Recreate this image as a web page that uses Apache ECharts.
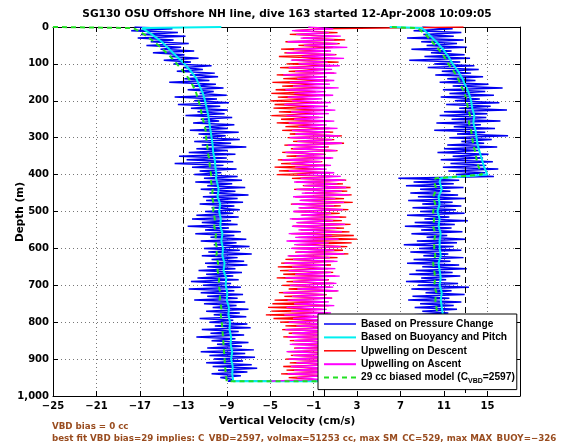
<!DOCTYPE html>
<html><head><meta charset="utf-8">
<script src="https://cdn.jsdelivr.net/npm/echarts@6/dist/echarts.min.js"></script>
<style>html,body{margin:0;padding:0;background:#fff}#c{width:568px;height:442px}</style>
</head><body><div id="c"></div>
<script>
// depth samples (m)
const D5 = [0,5,10,15,20,25,30,35,40,45,50,55,60,65,70,75,80,85,90,95,
100,105,110,115,120,125,130,135,140,145,150,155,160,165,170,175,180,185,190,195,
200,205,210,215,220,225,230,235,240,245,250,255,260,265,270,275,280,285,290,295,
300,305,310,315,320,325,330,335,340,345,350,355,360,365,370,375,380,385,390,395,
400,405,410,415,420,425,430,435,440,445,450,455,460,465,470,475,480,485,490,495,
500,505,510,515,520,525,530,535,540,545,550,555,560,565,570,575,580,585,590,595,
600,605,610,615,620,625,630,635,640,645,650,655,660,665,670,675,680,685,690,695,
700,705,710,715,720,725,730,735,740,745,750,755,760,765,770,775,780,785,790,795,
800,805,810,815,820,825,830,835,840,845,850,855,860,865,870,875,880,885,890,895,
900,905,910,915,920,925,930,935,940,945,950,955,960];
const D20 = [0,3,20,40,60,80,100,120,140,160,180,200,220,240,260,280,300,320,340,360,380,400,410,
420,440,460,480,500,520,540,560,580,600,620,640,660,680,700,720,740,760,780,800,820,840,860,880,900,920,940,960];

// Based on Pressure Change (cm/s) - descent, at D5 depths
const blueDescent = [-17.5,-14.0,-17.8,-13.5,-16.9,-12.8,-17.2,-13.9,-16.0,-12.5,
-16.4,-13.2,-15.1,-12.0,-15.8,-12.9,-14.2,-11.6,-14.8,-12.3,
-13.9,-10.4,-13.0,-11.2,-13.6,-10.1,-12.4,-9.8,-12.9,-10.6,
-14.3,-10.0,-12.1,-9.3,-12.6,-10.2,-11.5,-9.0,-13.8,-9.9,
-12.0,-8.8,-13.5,-9.6,-12.3,-8.9,-11.7,-9.2,-12.8,-8.5,
-11.4,-9.7,-12.1,-8.3,-11.0,-8.9,-12.4,-7.9,-11.6,-9.1,
-11.2,-7.8,-12.0,-8.6,-11.3,-7.2,-11.8,-8.9,-12.5,-8.2,
-13.4,-9.0,-12.7,-8.4,-13.8,-9.3,-12.2,-8.1,-11.5,-9.5,
-12.0,-8.0,-11.1,-7.6,-11.9,-8.5,-10.8,-7.3,-11.4,-8.2,
-10.6,-7.0,-11.2,-8.0,-10.9,-7.5,-11.5,-8.3,-10.4,-7.8,
-11.0,-8.4,-11.8,-7.9,-12.2,-8.6,-11.3,-8.0,-12.6,-8.8,
-11.0,-7.7,-11.9,-8.3,-10.5,-7.2,-11.4,-8.1,-10.2,-6.9,
-11.1,-7.8,-10.7,-6.7,-11.3,-8.0,-10.4,-7.4,-11.0,-7.1,
-10.8,-8.2,-11.6,-7.6,-10.9,-8.4,-11.7,-7.9,-12.3,-8.6,
-11.2,-7.7,-12.5,-8.3,-11.4,-7.5,-10.8,-8.0,-12.0,-7.3,
-11.1,-8.1,-10.3,-7.0,-10.9,-7.8,-10.2,-7.2,-11.5,-8.4,
-10.6,-7.1,-10.1,-6.8,-11.3,-7.9,-10.5,-7.4,-11.8,-8.2,
-10.4,-7.0,-9.9,-7.6,-10.8,-6.5,-11.4,-7.3,-10.6,-6.4,
-10.2,-7.5,-10.9,-6.7,-10.3,-6.2,-9.8,-7.1,-10.4,-7.7,
-9.6,-8.4,-8.9];
// Based on Pressure Change - ascent, at D5 depths
const blueAscent = [9.0,11.8,8.2,12.6,9.1,11.9,7.6,12.8,8.9,12.2,
9.4,13.1,8.0,11.7,9.8,12.9,9.2,13.4,7.8,12.5,
10.1,13.8,9.5,14.2,10.8,13.5,10.2,14.6,11.3,13.9,
10.6,15.1,11.8,16.4,10.9,14.8,11.5,15.6,10.7,14.3,
12.0,16.1,11.2,15.3,12.4,16.8,11.0,15.0,10.6,14.9,
11.7,16.2,10.3,14.4,11.9,15.7,10.1,14.8,12.2,16.9,
11.5,15.4,12.6,14.7,11.3,15.9,11.0,14.2,10.4,15.1,
11.8,14.6,10.7,15.5,11.6,14.9,10.9,16.0,11.4,14.8,
12.1,15.6,6.8,12.4,8.2,11.9,7.5,12.8,8.8,11.6,
7.9,12.3,8.6,13.0,7.7,11.8,9.0,12.6,8.1,12.1,
8.8,12.9,7.6,11.5,9.2,13.2,8.3,12.0,7.4,11.7,
8.9,12.7,8.0,11.3,9.4,13.0,8.5,12.2,7.3,11.9,
8.7,12.6,7.9,11.4,9.1,12.8,8.2,11.6,7.6,12.4,
9.0,13.1,8.4,11.8,7.8,12.5,8.9,11.2,7.5,12.3,
8.6,13.3,8.0,11.7,9.3,12.9,8.1,11.5,7.7,12.6,
8.8,11.9,8.3,12.2,9.0,11.4,8.2,12.7,7.9,11.8,
8.7,12.4,8.0,11.6,9.1,12.9,8.4,11.3,7.8,12.5,
8.9,11.7,8.2,12.8,8.6,11.9,9.3,12.3,8.1,11.6,
8.8,12.5,8.3,11.4,9.0,12.1,8.7,11.8,9.4,11.2,
9.6,10.8,10.0];
// Upwelling on Descent, at D5 depths
const redDescent = [12.8,-0.6,-2.8,1.2,-3.2,0.5,-2.0,1.9,-3.6,1.4,
-2.4,0.8,-4.0,0.3,-3.7,1.1,-4.2,0.2,-3.0,1.3,
-3.5,0.6,-4.1,0.0,-3.3,0.9,-4.4,-0.3,-3.8,0.4,
-4.8,-0.5,-3.9,0.1,-4.5,-0.8,-4.9,-0.4,-4.3,-1.0,
-5.0,-0.2,-4.6,-0.9,-4.7,-0.1,-4.2,-0.7,-4.9,-0.5,
-4.0,0.2,-4.4,-0.6,-3.6,0.5,-3.9,0.8,-3.2,1.6,
-3.4,0.9,-2.9,1.8,-3.7,0.4,-3.1,1.2,-3.9,0.1,
-3.5,0.6,-4.3,-0.2,-4.0,0.3,-4.6,-0.4,-4.2,0.5,
-4.4,0.8,-3.0,2.0,-2.6,1.7,-2.0,2.4,-2.8,2.1,
-1.8,2.5,-2.7,1.8,-2.2,2.6,-3.1,1.5,-2.3,2.2,
-2.8,1.4,-2.1,2.0,-3.0,1.6,-2.5,2.4,-2.9,1.8,
-2.2,2.3,-3.1,2.7,-2.4,3.0,-3.2,2.5,-2.6,2.1,
-3.0,1.7,-2.7,2.2,-3.3,1.2,-3.6,0.9,-4.0,0.6,
-4.3,0.3,-4.1,0.8,-3.8,1.0,-4.4,0.4,-3.5,0.9,
-3.9,0.5,-3.3,1.2,-4.2,0.2,-3.7,0.7,-4.6,0.1,
-4.8,0.4,-5.2,-0.2,-4.9,0.3,-5.4,-0.3,-4.7,0.2,
-4.1,0.6,-3.6,1.1,-3.9,0.8,-3.3,1.4,-3.8,0.9,
-3.2,1.7,-3.0,2.0,-2.8,1.8,-3.4,1.3,-3.1,1.0,
-3.6,0.7,-3.2,1.2,-3.8,0.4,-3.5,0.9,-4.0,0.2,
-3.3,-1.0,-2.5];
// Upwelling on Ascent, at D5 depths
const magentaAscent = [-1.5,0.8,-3.0,0.4,-2.6,1.5,-2.2,0.9,-3.4,1.2,
-1.9,2.1,-2.8,0.6,-3.5,1.0,-2.1,1.8,-3.1,0.3,
-2.4,1.4,-3.3,0.7,-2.7,1.1,-3.8,0.2,-2.5,0.9,
-3.2,0.5,-2.9,1.3,-3.6,0.1,-2.8,0.8,-3.4,-0.2,
-3.0,0.6,-3.7,0.3,-2.6,1.0,-3.1,0.4,-3.5,-0.1,
-2.8,0.9,-3.3,0.2,-2.4,1.2,-3.0,0.5,-2.7,1.4,
-3.2,0.7,-2.5,1.6,-3.4,0.3,-2.9,1.1,-3.6,0.0,
-2.6,0.8,-3.9,-0.3,-3.1,0.6,-2.7,0.2,-3.3,0.9,
-2.5,1.5,-2.2,1.9,-2.8,1.2,-1.9,2.0,-2.6,1.6,
-2.1,2.3,-2.9,1.0,-2.3,1.8,-3.0,0.9,-2.4,1.7,
-2.9,0.6,-2.2,1.4,-3.2,0.8,-2.6,1.9,-3.0,1.1,
-2.4,1.6,-3.3,0.7,-2.7,1.3,-3.5,0.4,-2.8,1.5,
-3.1,0.9,-2.6,1.8,-3.4,0.5,-2.9,1.2,-3.7,0.2,
-3.0,1.0,-3.3,0.6,-2.7,1.4,-3.6,0.3,-2.9,1.1,
-3.2,0.8,-2.5,1.3,-3.8,0.1,-3.0,0.7,-3.4,0.4,
-2.8,0.9,-3.5,0.2,-3.1,0.6,-3.7,-0.1,-2.9,0.8,
-3.3,0.3,-2.6,1.0,-3.6,0.5,-3.0,0.9,-3.4,0.2,
-2.8,1.1,-3.2,0.6,-2.7,1.3,-3.5,0.4,-2.9,0.8,
-3.3,0.5,-2.6,1.0,-3.1,0.3,-2.8,0.7,-3.4,0.1,
-2.5,-0.4,-5.2];
// Based on Buoyancy and Pitch, at D20 depths
const cyanDescent = [-9.5,-16.8,-15.9,-15.0,-14.3,-13.6,-12.9,-12.3,-11.8,-11.5,-11.2,-11.0,-10.85,-10.7,-10.6,-10.5,-10.4,-10.3,-10.25,-10.1,-10.05,-9.95,-10.0,
-9.9,-9.75,-9.85,-9.6,-9.7,-9.55,-9.6,-9.4,-9.5,-9.35,-9.4,-9.2,-9.3,-9.05,-9.1,-8.95,-9.0,-8.8,-8.85,-8.7,-8.75,-8.6,-8.65,-8.5,-8.6,-8.45,-8.5,-8.4];
const cyanAscent = [6.0,9.0,9.6,10.3,10.9,11.4,11.8,12.3,12.7,13.0,13.3,13.5,13.6,13.8,13.7,13.9,14.0,14.1,14.3,14.5,14.7,15.0,10.7,
10.6,10.8,10.5,10.6,10.4,10.6,10.5,10.7,10.6,10.6,10.7,10.5,10.6,10.7,10.6,10.8,10.7,10.8,10.9,10.8,10.9,11.0,10.9,11.0,11.1,11.0,11.1,11.0];
// 29 cc biased model, at D20 depths
const modelDescent = [-25,-17.6,-16.6,-15.7,-14.9,-14.2,-13.6,-13.0,-12.5,-12.1,-11.8,-11.6,-11.4,-11.3,-11.1,-10.95,-10.9,-10.8,-10.75,-10.6,-10.55,-10.45,-10.4,
-10.45,-10.3,-10.35,-10.2,-10.25,-10.1,-10.15,-10.0,-10.05,-9.9,-9.95,-9.8,-9.85,-9.7,-9.75,-9.6,-9.65,-9.5,-9.55,-9.45,-9.4,-9.35,-9.3,-9.25,-9.2,-9.15,-9.1,-9.0];
const modelAscent = [6.0,8.6,9.3,9.9,10.5,11.0,11.4,11.9,12.3,12.6,12.9,13.1,13.2,13.4,13.3,13.5,13.6,13.7,13.9,14.0,14.2,14.5,10.2,
10.1,10.3,10.0,10.2,10.0,10.1,10.0,10.2,10.1,10.1,10.2,10.0,10.1,10.2,10.1,10.3,10.2,10.3,10.4,10.3,10.4,10.5,10.4,10.5,10.6,10.5,10.6,10.5];

const refLines = [-13, 0, 13];
const xTicks = [-25,-21,-17,-13,-9,-5,-1,3,7,11,15];
const seriesNames = ['Based on Pressure Change','Based on Buoyancy and Pitch','Upwelling on Descent','Upwelling on Ascent','29 cc biased model (C_VBD=2597)'];
const titleText = 'SG130 OSU Offshore NH line, dive 163 started 12-Apr-2008 10:09:05';
const note1 = 'VBD bias = 0 cc';
const note2 = 'best fit VBD bias=29 implies: C_VBD=2597, volmax=51253 cc, max SM_CC=529, max MAX_BUOY=\u2212326';

function pairs(vals, depths){ const n=Math.min(vals.length, depths.length); const out=[]; for(let i=0;i<n;i++) out.push([vals[i], depths[i]]); return out; }
const blueData = pairs(blueDescent, D5).concat(pairs(blueAscent, D5).reverse());
const cyanData = pairs(cyanDescent, D20).concat(pairs(cyanAscent, D20).reverse());
const modelData = pairs(modelDescent, D20).concat(pairs(modelAscent, D20).reverse());
const redData = pairs(redDescent, D5);
const magData = pairs(magentaAscent, D5).reverse();

const F = 'DejaVu Sans';
const LF = 'Liberation Sans';
const C = {blue:'#0000f0', cyan:'#00f0f0', red:'#ff0000', mag:'#ff00ff', green:'#22e022'};
const chart = echarts.init(document.getElementById('c'), null, {renderer:'canvas'});
const fmtX = v => v < 0 ? '\u2212' + (-v) : String(v);
const lineBase = {type:'line', showSymbol:false, symbol:'none', animation:false, xAxisIndex:0, yAxisIndex:0, silent:true};
chart.setOption({
  animation:false,
  grid:{left:53, top:27, width:467, height:369, containLabel:false},
  xAxis:[{type:'value', position:'bottom', min:-25, max:18,
    axisLine:{onZero:false, lineStyle:{color:'#000', width:1}},
    axisTick:{inside:true, length:5, customValues:xTicks, lineStyle:{color:'#000'}},
    axisLabel:{customValues:xTicks, formatter:fmtX, margin:5, color:'#000', fontFamily:F, fontWeight:'bold', fontSize:10},
    splitLine:{show:true, lineStyle:{color:'#777', width:1, type:[1,3]}}},
   {type:'value', position:'top', min:-25, max:18,
    axisLine:{onZero:false, lineStyle:{color:'#000', width:1}},
    axisTick:{inside:true, length:5, customValues:xTicks, lineStyle:{color:'#000'}},
    axisLabel:{show:false}, splitLine:{show:false}}],
  yAxis:[{type:'value', position:'left', inverse:true, min:0, max:1000, interval:100,
    axisLine:{onZero:false, lineStyle:{color:'#000', width:1}},
    axisTick:{inside:true, length:5, lineStyle:{color:'#000'}},
    axisLabel:{margin:4, color:'#000', fontFamily:F, fontWeight:'bold', fontSize:10},
    splitLine:{show:true, lineStyle:{color:'#777', width:1, type:[1,3]}}},
   {type:'value', position:'right', inverse:true, min:0, max:1000, interval:100,
    axisLine:{onZero:false, lineStyle:{color:'#000', width:1}},
    axisTick:{inside:true, length:5, lineStyle:{color:'#000'}},
    axisLabel:{show:false}, splitLine:{show:false}}],
  legend:{show:true, z:30, orient:'vertical', left:318, top:314, padding:[5,2,5,5], itemGap:3.4, itemWidth:32, itemHeight:10,
    borderColor:'#000', borderWidth:1, borderRadius:0, backgroundColor:'#fff', selectedMode:false,
    itemStyle:{opacity:0},
    textStyle:{fontFamily:LF, fontWeight:'bold', fontSize:10.2, color:'#000', lineHeight:10,
      rich:{m:{fontFamily:LF, fontWeight:'bold', fontSize:10.2, color:'#000', lineHeight:10, verticalAlign:'top'},
            s:{fontFamily:LF, fontWeight:'bold', fontSize:7, color:'#000', lineHeight:7, verticalAlign:'top', padding:[5,0,0,0]}}},
    formatter: n => n === seriesNames[4] ? '{m|29 cc biased model (C}{s|VBD}{m|=2597)}' : n,
    data:[{name:seriesNames[0], lineStyle:{width:1.5}, itemStyle:{opacity:0}}, {name:seriesNames[1], lineStyle:{width:2}, itemStyle:{opacity:0}},
          {name:seriesNames[2], lineStyle:{width:1.5}, itemStyle:{opacity:0}}, {name:seriesNames[3], lineStyle:{width:2}, itemStyle:{opacity:0}},
          {name:seriesNames[4], lineStyle:{width:2, type:[5,4]}, itemStyle:{opacity:0}}]},
  series:[
    Object.assign({}, lineBase, {name:seriesNames[0], data:blueData, z:2, color:C.blue, lineStyle:{color:C.blue, width:1.5}}),
    Object.assign({}, lineBase, {name:seriesNames[1], data:cyanData, z:3, color:C.cyan, lineStyle:{color:C.cyan, width:2}}),
    Object.assign({}, lineBase, {name:seriesNames[2], data:redData, z:2, color:C.red, lineStyle:{color:C.red, width:1.3}}),
    Object.assign({}, lineBase, {name:seriesNames[3], data:magData, z:3, color:C.mag, lineStyle:{color:C.mag, width:1.3}}),
    Object.assign({}, lineBase, {name:seriesNames[4], data:modelData, z:4, color:C.green, lineStyle:{color:C.green, width:2, type:[5,4]}}),
    Object.assign({}, lineBase, {name:'ref', data:[], z:6,
      markLine:{silent:true, symbol:'none', animation:false, label:{show:false},
        data: refLines.map(v => ({xAxis:v, lineStyle:{color:'#000', width:1, type: v === 0 ? 'solid' : [6,4]}}))}})
  ],
  graphic:[
    {type:'text', x:287, y:14, style:{text:titleText, fill:'#000', font:'bold 10.6px "DejaVu Sans"', textAlign:'center', textVerticalAlign:'middle'}},
    {type:'text', x:287, y:421, style:{text:'Vertical Velocity (cm/s)', fill:'#000', font:'bold 10.5px "DejaVu Sans"', textAlign:'center', textVerticalAlign:'middle'}},
    {type:'text', x:20, y:212, rotation:Math.PI/2, style:{text:'Depth (m)', fill:'#000', font:'bold 10.5px "DejaVu Sans"', textAlign:'center', textVerticalAlign:'middle'}},
    {type:'text', x:52, y:427, style:{text:note1, fill:'#994c1f', font:'bold 8.7px "DejaVu Sans"', textAlign:'left', textVerticalAlign:'middle'}},
    {type:'text', x:52, y:439, style:{text:note2, fill:'#994c1f', font:'bold 8.7px "DejaVu Sans"', textAlign:'left', textVerticalAlign:'middle'}}
  ]
});
</script></body></html>
